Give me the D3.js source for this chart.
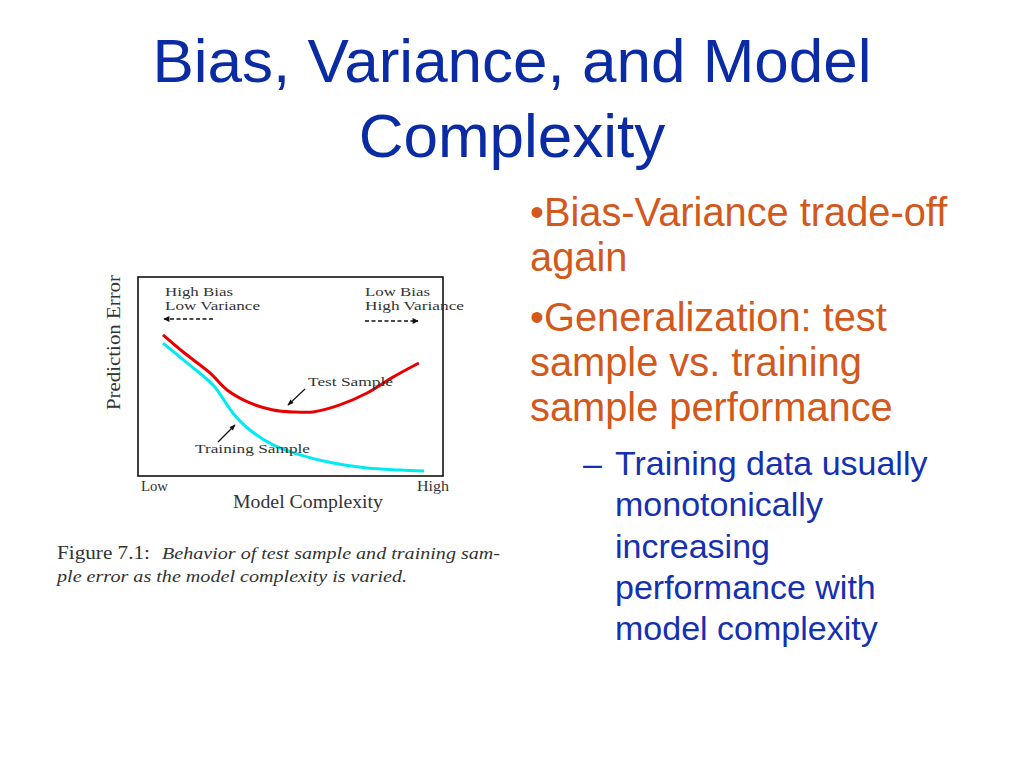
<!DOCTYPE html>
<html><head><meta charset="utf-8">
<script src="https://cdn.jsdelivr.net/npm/d3@7"></script>
<style>html,body{margin:0;padding:0;background:#fff;}svg{display:block;}</style>
</head><body>
<script>
// ---- data ----
const complexity = [8.2, 14.8, 23.6, 29.2, 36.7, 44.3, 50.8, 57.4, 66.2, 75.1, 83.6, 92.1];
const testError  = [70.9, 62.3, 51.8, 43.2, 36.7, 33.2, 32.2, 32.2, 35.7, 41.7, 49.7, 56.8];
const complexityTrain = [8.2, 16.1, 24.6, 31.1, 36.7, 44.3, 53.1, 63.9, 75.1, 85.9, 93.8];
const trainError      = [66.8, 56.8, 45.7, 31.7, 23.1, 15.6, 10.6, 6.5, 4.0, 3.0, 2.5];
const xTickLabels = ["Low", "High"];
const titleLines = ["Bias, Variance, and Model", "Complexity"];
const bullets1 = ["•Bias-Variance trade-off", "again"];
const bullets2 = ["•Generalization: test", "sample vs. training", "sample performance"];
const subBullet = ["Training data usually", "monotonically", "increasing", "performance with", "model complexity"];
const captionLabel = "Figure 7.1:";
const captionLines = ["Behavior of test sample and training sam-", "ple error as the model complexity is varied."];

const W = 1024, H = 768;
const svg = d3.select("body").append("svg").attr("width", W).attr("height", H);
const sans = "Liberation Sans, Arial, sans-serif";

// title
const titleColor = "#0a2ba3";
svg.selectAll("text.title").data(titleLines).enter().append("text")
  .attr("x", 512).attr("y", (d, i) => 82 + i * 75)
  .attr("text-anchor", "middle")
  .style("font-family", sans)
  .style("font-size", "62px").style("fill", titleColor).text(d => d);

// right bullets
const orange = "#d2581c";
svg.selectAll("text.b1").data(bullets1).enter().append("text")
  .attr("x", 530).attr("y", (d, i) => 226 + i * 45)
  .style("font-family", sans)
  .style("font-size", "39.8px").style("fill", orange).text(d => d);
svg.selectAll("text.b2").data(bullets2).enter().append("text")
  .attr("x", 530).attr("y", (d, i) => 331 + i * 45)
  .style("font-family", sans)
  .style("font-size", "39.8px").style("fill", orange).text(d => d);
const subBlue = "#1530b0";
svg.append("text").attr("x", 583).attr("y", 475)
  .style("font-family", sans)
  .style("font-size", "34px").style("fill", subBlue).text("–");
svg.selectAll("text.sb").data(subBullet).enter().append("text")
  .attr("x", 615).attr("y", (d, i) => 475 + i * 41.3)
  .style("font-family", sans)
  .style("font-size", "34px").style("fill", subBlue).text(d => d);

// ---- plot ----
const serif = "Liberation Serif, Times New Roman, serif";
const textGrey = "#333";
const x = d3.scaleLinear().domain([0, 100]).range([138, 443]);
const y = d3.scaleLinear().domain([0, 100]).range([476, 277]);

function label(txt, px, py, size, len, opts = {}) {
  const t = svg.append("text").attr("x", px).attr("y", py)
    .attr("textLength", len).attr("lengthAdjust", opts.adjust || "spacingAndGlyphs")
    .style("font-family", serif).style("font-size", size + "px").style("fill", textGrey)
    .text(txt);
  if (opts.italic) t.style("font-style", "italic");
  if (opts.transform) t.attr("transform", opts.transform);
  return t;
}

svg.append("rect").attr("x", x(0)).attr("y", y(100))
  .attr("width", x(100) - x(0)).attr("height", y(0) - y(100))
  .attr("fill", "none").attr("stroke", "#111").attr("stroke-width", 1.6);

const line = d3.line().x(d => x(d[0])).y(d => y(d[1])).curve(d3.curveCatmullRom.alpha(0.5));
svg.append("path").datum(complexityTrain.map((c, i) => [c, trainError[i]]))
  .attr("d", line).attr("fill", "none").attr("stroke", "#00eaf2").attr("stroke-width", 3);
svg.append("path").datum(complexity.map((c, i) => [c, testError[i]]))
  .attr("d", line).attr("fill", "none").attr("stroke", "#e80000").attr("stroke-width", 3);

// x tick labels
label(xTickLabels[0], 141, 491, 14, 27);
label(xTickLabels[1], 417, 491, 14, 32);
// axis titles
label("Model Complexity", 233, 508, 18, 150);
label("Prediction Error", 0, 0, 18, 135, {transform: "translate(120,410) rotate(-90)"});

// regime labels
label("High Bias", 165, 296, 13.5, 68);
label("Low Variance", 165, 310, 13.5, 95);
label("Low Bias", 365, 296, 13.5, 65);
label("High Variance", 365, 310, 13.5, 99);

svg.append("defs").append("marker").attr("id", "ah").attr("viewBox", "0 0 10 10")
  .attr("refX", 9).attr("refY", 5).attr("markerWidth", 9).attr("markerHeight", 6)
  .attr("markerUnits", "userSpaceOnUse").attr("orient", "auto")
  .append("path").attr("d", "M0,0 L10,5 L0,10 z").attr("fill", "#111");
svg.append("defs").append("marker").attr("id", "ah2").attr("viewBox", "0 0 10 10")
  .attr("refX", 9).attr("refY", 5).attr("markerWidth", 8).attr("markerHeight", 6)
  .attr("markerUnits", "userSpaceOnUse").attr("orient", "auto")
  .append("path").attr("d", "M0,1 L10,5 L0,9 z").attr("fill", "#111");

svg.append("line").attr("x1", 213).attr("y1", 319).attr("x2", 164).attr("y2", 319)
  .attr("stroke", "#111").attr("stroke-width", 1.3).attr("stroke-dasharray", "4,2.5").attr("marker-end", "url(#ah)");
svg.append("line").attr("x1", 365).attr("y1", 321).attr("x2", 418).attr("y2", 321)
  .attr("stroke", "#111").attr("stroke-width", 1.3).attr("stroke-dasharray", "4,2.5").attr("marker-end", "url(#ah)");

// annotations
label("Test Sample", 308, 386, 13.5, 85);
svg.append("line").attr("x1", 305).attr("y1", 389).attr("x2", 288).attr("y2", 405)
  .attr("stroke", "#111").attr("stroke-width", 1.2).attr("marker-end", "url(#ah2)");
label("Training Sample", 195, 453, 13.5, 115);
svg.append("line").attr("x1", 218).attr("y1", 442).attr("x2", 235).attr("y2", 425)
  .attr("stroke", "#111").attr("stroke-width", 1.2).attr("marker-end", "url(#ah2)");

// caption
label(captionLabel, 57, 559, 18.5, 93);
label(captionLines[0], 162, 559, 17.5, 338, {italic: true});
label(captionLines[1], 57, 582, 17.5, 350, {italic: true});
</script>
</body></html>
